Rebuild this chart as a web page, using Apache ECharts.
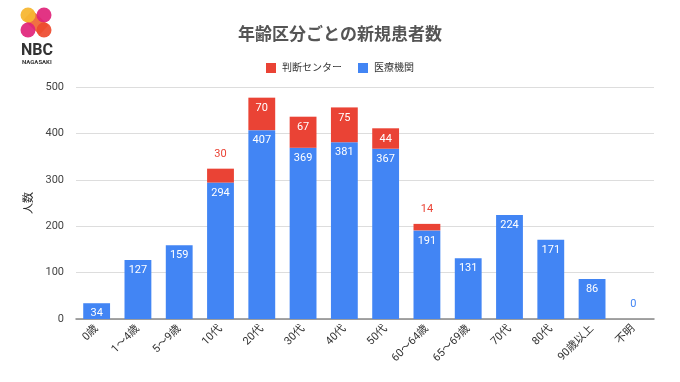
<!DOCTYPE html>
<html><head><meta charset="utf-8">
<script src="https://cdn.jsdelivr.net/npm/echarts@6/dist/echarts.min.js"></script>
<style>html,body{margin:0;padding:0;background:#fff}#c{width:680px;height:382px}</style>
</head><body><div id="c"></div>
<script>
const categories = ['0歳','1～4歳','5～9歳','10代','20代','30代','40代','50代','60～64歳','65～69歳','70代','80代','90歳以上','不明'];
const hospital = [34,127,159,294,407,369,381,367,191,131,224,171,86,0];
const center = [0,0,0,30,70,67,75,44,14,0,0,0,0,0];
const yTicks = {min:0, max:500, interval:100};
const RED = '#EA4335', BLUE = '#4285F4';
const FF = "Roboto, 'Noto Sans CJK JP', sans-serif";

const chart = echarts.init(document.getElementById('c'), null, {renderer:'canvas'});

const blueData = hospital.map(v => v === 0
  ? {value:v, label:{show:true, position:'top', color:BLUE, distance:9}}
  : {value:v});
const redData = center.map((v,i) => {
  if (v === 0) return {value:v, label:{show:false}};
  if (v < 40) return {value:v, label:{show:true, position:'top', color:RED, distance:9}};
  return {value:v};
});

chart.setOption({
  animation:false,
  textStyle:{fontFamily:FF},
  title:{text:'年齢区分ごとの新規患者数', left:'center', top:22,
    textStyle:{fontSize:17, fontWeight:'bold', color:'#555', fontFamily:FF}},
  legend:{top:58, left:'center', itemWidth:10, itemHeight:10, itemGap:16, icon:'rect',
    textStyle:{fontSize:10, color:'#333', fontFamily:FF, padding:[0,0,0,1]},
    data:['判断センター','医療機関']},
  grid:{left:76, right:26, top:87, bottom:63},
  xAxis:{type:'category', data:categories,
    axisLine:{lineStyle:{color:'#888', width:1.5}}, axisTick:{show:false},
    axisLabel:{rotate:45, fontSize:11, color:'#333', interval:0, margin:8}},
  yAxis:{type:'value', min:yTicks.min, max:yTicks.max, interval:yTicks.interval,
    name:'人数', nameLocation:'middle', nameGap:40, nameRotate:90,
    nameTextStyle:{fontSize:11, color:'#222'},
    axisLabel:{fontSize:11, color:'#444', margin:12},
    splitLine:{lineStyle:{color:'#ddd'}}, axisLine:{show:false}, axisTick:{show:false}},
  series:[
    {name:'医療機関', type:'bar', stack:'s', data:blueData, barWidth:'65%',
      itemStyle:{color:BLUE},
      label:{show:true, position:'insideTop', distance:5, color:'#fff', fontSize:11}},
    {name:'判断センター', type:'bar', stack:'s', data:redData, barWidth:'65%',
      itemStyle:{color:RED},
      label:{show:true, position:'insideTop', distance:5, color:'#fff', fontSize:11}}
  ],
  graphic:[
    {type:'line', shape:{x1:28, y1:15, x2:44, y2:30}, style:{stroke:'#F0602E', lineWidth:13, opacity:0.9}},
    {type:'circle', shape:{cx:28, cy:15, r:7.5}, style:{fill:'#F7B733', opacity:0.95}},
    {type:'circle', shape:{cx:44, cy:15, r:7.5}, style:{fill:'#E0237A', opacity:0.92}},
    {type:'circle', shape:{cx:28, cy:30, r:7.5}, style:{fill:'#E0237A', opacity:0.92}},
    {type:'circle', shape:{cx:44, cy:30, r:7.5}, style:{fill:'#EE4A2E', opacity:0.92}},
    {type:'text', left:21, top:43, style:{text:'NBC', font:"bold 16px Roboto, sans-serif", fill:'#333'}},
    {type:'text', left:22, top:59, style:{text:'NAGASAKI', font:"bold 6px Roboto, sans-serif", fill:'#333'}}
  ]
});
</script></body></html>
